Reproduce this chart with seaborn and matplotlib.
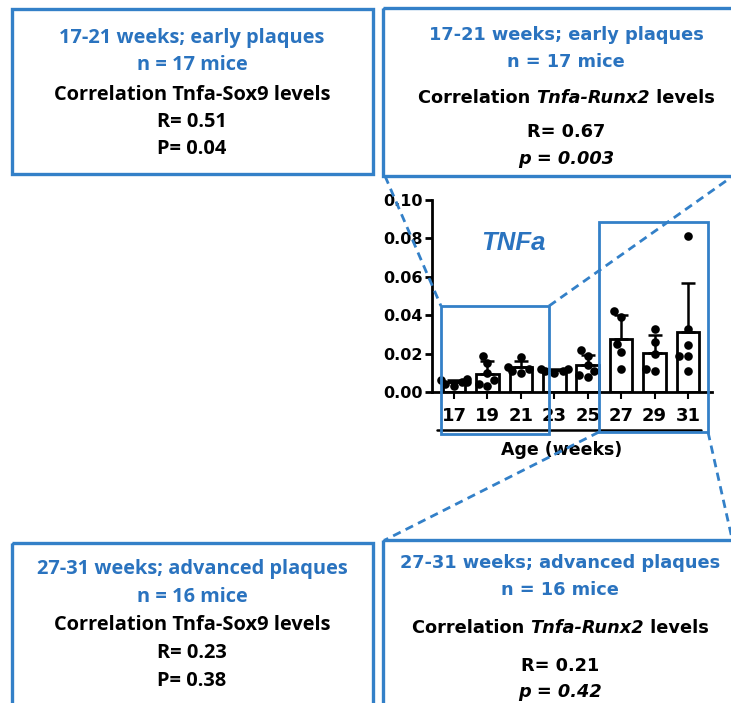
import numpy as np
import pandas as pd
import matplotlib
matplotlib.use("Agg")
import matplotlib.pyplot as plt
from matplotlib.patches import Rectangle
import seaborn as sns

# Tnfa expression per mouse, grouped by age (weeks)
weeks = ["17", "19", "21", "23", "25", "27", "29", "31"]
tnfa_17 = [0.003, 0.004, 0.005, 0.006, 0.007, 0.005]
tnfa_19 = [0.019, 0.015, 0.010, 0.006, 0.004, 0.003]
tnfa_21 = [0.018, 0.013, 0.012, 0.011, 0.010]
tnfa_23 = [0.012, 0.012, 0.011, 0.011, 0.010]
tnfa_25 = [0.022, 0.019, 0.014, 0.011, 0.009, 0.008]
tnfa_27 = [0.042, 0.039, 0.025, 0.021, 0.012]
tnfa_29 = [0.033, 0.026, 0.020, 0.011, 0.012]
tnfa_31 = [0.081, 0.033, 0.0245, 0.019, 0.019, 0.011]
y_ticks = [0.00, 0.02, 0.04, 0.06, 0.08, 0.10]

groups = [tnfa_17, tnfa_19, tnfa_21, tnfa_23, tnfa_25, tnfa_27, tnfa_29, tnfa_31]
df = pd.DataFrame({
    "week": [w for w, g in zip(weeks, groups) for _ in g],
    "tnfa": [v for g in groups for v in g],
})

# correlation summaries for the annotation boxes
early_sox9 = ["17-21 weeks; early plaques", "n = 17 mice", "Correlation Tnfa-Sox9 levels", "R= 0.51", "P= 0.04"]
early_runx2 = ["17-21 weeks; early plaques", "n = 17 mice", ("Correlation ", "Tnfa-Runx2", " levels"), "R= 0.67", "p = 0.003"]
adv_sox9 = ["27-31 weeks; advanced plaques", "n = 16 mice", "Correlation Tnfa-Sox9 levels", "R= 0.23", "P= 0.38"]
adv_runx2 = ["27-31 weeks; advanced plaques", "n = 16 mice", ("Correlation ", "Tnfa-Runx2", " levels"), "R= 0.21", "p = 0.42"]

sns.set_style("ticks")
plt.rcParams["font.family"] = ["DejaVu Sans"]
plt.rcParams.update({"text.color": "black", "axes.labelcolor": "black",
                     "xtick.color": "black", "ytick.color": "black",
                     "axes.edgecolor": "black"})

BLUE_TXT = "#2a73bf"
BLUE_BOX = "#3380c8"
W, H = 731, 703
fig = plt.figure(figsize=(W / 100, H / 100), dpi=100)

# ---- bar chart -------------------------------------------------------------
ax_l, ax_r, ax_t, ax_b = 432, 712, 200, 392
ax = fig.add_axes([ax_l / W, 1 - ax_b / H, (ax_r - ax_l) / W, (ax_b - ax_t) / H])

sns.barplot(data=df, x="week", y="tnfa", order=weeks, errorbar=None,
            color="white", edgecolor="black", linewidth=2, width=0.68, ax=ax, zorder=2)

stats = df.groupby("week", sort=False)["tnfa"].agg(["mean", "std"]).reindex(weeks)
pos = np.arange(len(weeks))
ax.errorbar(pos, stats["mean"], yerr=[np.zeros(len(weeks)), stats["std"]],
            fmt="none", ecolor="black", elinewidth=1.8, capsize=5, capthick=1.8, zorder=3)

sns.swarmplot(data=df, x="week", y="tnfa", order=weeks, color="black",
              size=6.2, ax=ax, zorder=4)

ax.set_ylim(0, 0.10)
ax.set_xlim(-0.66, 7.72)
ax.set_yticks(y_ticks)
ax.set_yticklabels([f"{t:.2f}" for t in y_ticks], fontsize=11.5, fontweight="bold")
ax.set_xticks(pos)
ax.set_xticklabels(weeks, fontsize=13, fontweight="bold")
ax.set_ylabel("")
ax.set_xlabel("Age (weeks)", fontsize=12.5, fontweight="bold")
ax.xaxis.set_label_coords(0.464, -0.255)
ax.tick_params(axis="y", length=5, width=2, pad=2)
ax.tick_params(axis="x", length=5, width=1.5, pad=6)
for s in ["left", "bottom"]:
    ax.spines[s].set_linewidth(2)
for s in ["top", "right"]:
    ax.spines[s].set_visible(False)
ax.text(0.175, 0.775, "TNFa", transform=ax.transAxes, fontsize=18.5, fontweight="bold",
        fontstyle="italic", family=["Liberation Sans", "DejaVu Sans"], color=BLUE_TXT,
        ha="left", va="center")
ax.plot([0.018, 0.96], [-0.198, -0.198], transform=ax.transAxes, color="black",
        lw=1.8, clip_on=False)

# ---- overlay in pixel coordinates -------------------------------------------
ov = fig.add_axes([0, 0, 1, 1], zorder=10)
ov.set_xlim(0, W)
ov.set_ylim(H, 0)
ov.axis("off")
ov.patch.set_alpha(0)


def box(x0, y0, x1, y1, lw):
    ov.add_patch(Rectangle((x0, y0), x1 - x0, y1 - y0, fill=False,
                           edgecolor=BLUE_BOX, lw=lw, clip_on=True))


def dash(p, q):
    ov.plot([p[0], q[0]], [p[1], q[1]], color=BLUE_BOX, lw=2, ls=(0, (3, 2)))


box(12, 9, 373, 174, 2.4)
box(383, 8, 740, 176, 2.4)
box(12, 543, 373, 712, 2.4)
box(383, 540, 740, 712, 2.4)
box(441, 306, 549, 434, 2.0)
box(599, 222, 708, 432, 2.0)
dash((385, 176), (441, 306))
dash((549, 306), (733, 176))
dash((599, 432), (385, 540))
dash((708, 432), (733, 543))

fig.canvas.draw()
renderer = fig.canvas.get_renderer()


def line(cx, cy, pieces, size, family, color):
    """Draw a centred line made of (text, italic) pieces."""
    arts = []
    for txt, ital in pieces:
        t = ov.text(0, cy, txt, fontsize=size, fontweight="bold",
                    fontstyle="italic" if ital else "normal", family=family,
                    color=color, ha="left", va="center")
        arts.append(t)
    widths = [a.get_window_extent(renderer).width for a in arts]
    x = cx - sum(widths) / 2
    for a, w in zip(arts, widths):
        a.set_x(x)
        x += w


def panel(cx, ys, lines, size, family, italic_p):
    for i, (y, content) in enumerate(zip(ys, lines)):
        color = BLUE_TXT if i < 2 else "black"
        if isinstance(content, tuple):
            pieces = [(content[0], False), (content[1], True), (content[2], False)]
        elif i == 4 and italic_p:
            pieces = [(content, True)]
        else:
            pieces = [(content, False)]
        line(cx, y, pieces, size, family, color)


left_font = ["Open Sans", "DejaVu Sans"]
right_font = ["DejaVu Sans"]
panel(192, [38, 65, 95, 122, 149], early_sox9, 14.4, left_font, False)
panel(566, [35, 62, 98, 132, 159], early_runx2, 12.8, right_font, True)
panel(192, [569, 597, 625, 653, 681], adv_sox9, 14.4, left_font, False)
panel(560, [563, 590, 628, 666, 692], adv_runx2, 12.8, right_font, True)

fig.savefig("out.png", dpi=100)
